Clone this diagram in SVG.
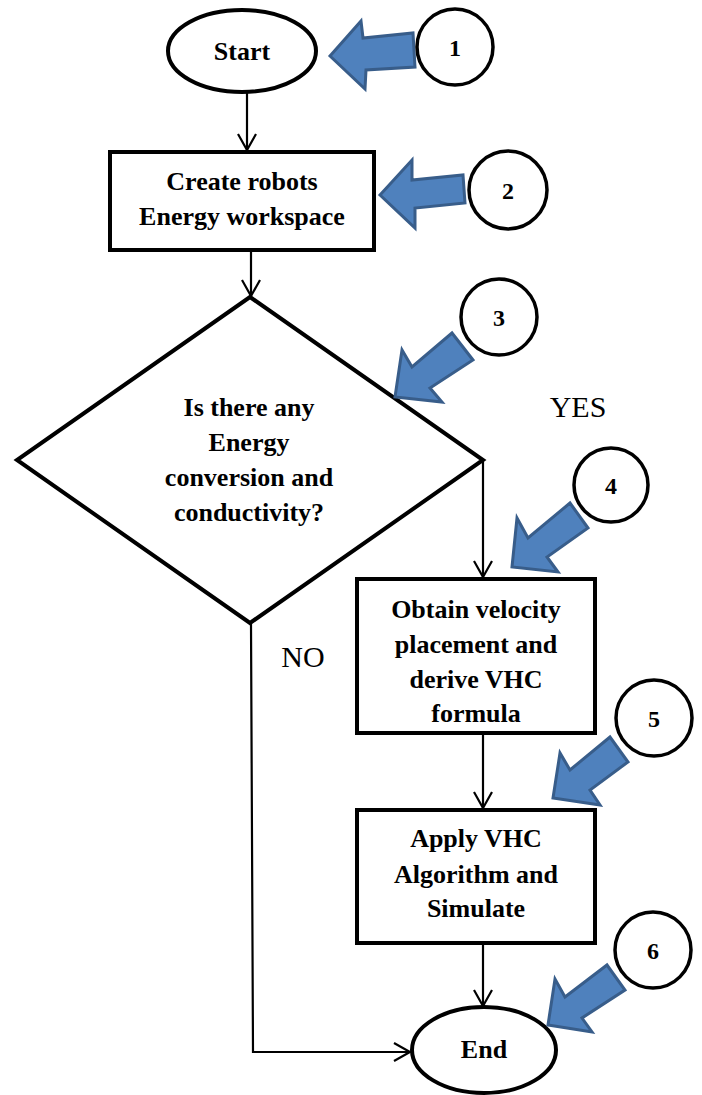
<svg xmlns="http://www.w3.org/2000/svg" width="702" height="1095" viewBox="0 0 702 1095">
<defs>
<style>
.shape{fill:#fff;stroke:#000;stroke-width:4}
.circ{fill:#fff;stroke:#000;stroke-width:3.5}
.blk{fill:#4f81bd;stroke:#385d8a;stroke-width:3;stroke-linejoin:miter}
.conn{fill:none;stroke:#000;stroke-width:2.2}
.t{font-family:"Liberation Serif",serif;font-weight:600;font-size:26px;text-anchor:middle;fill:#000}
.n{font-family:"Liberation Serif",serif;font-weight:600;font-size:24px;text-anchor:middle;fill:#000}
.lbl{font-family:"Liberation Serif",serif;font-size:30px;text-anchor:middle;fill:#000}
</style>
<marker id="arr" markerUnits="userSpaceOnUse" markerWidth="20" markerHeight="22" refX="17" refY="10" orient="auto">
<path d="M1,1 L17,10 L1,19" fill="none" stroke="#000" stroke-width="2.2"/>
</marker>
</defs>
<rect width="702" height="1095" fill="#fff"/>
<g id="connectors">
<line class="conn" x1="247" y1="93" x2="247" y2="150" marker-end="url(#arr)"/>
<line class="conn" x1="251" y1="251" x2="251" y2="296" marker-end="url(#arr)"/>
<polyline class="conn" points="483,460 483,577" marker-end="url(#arr)"/>
<line class="conn" x1="483" y1="734" x2="483" y2="808" marker-end="url(#arr)"/>
<line class="conn" x1="483" y1="944" x2="483" y2="1006" marker-end="url(#arr)"/>
<polyline class="conn" points="251,624 253,1052 410,1052" marker-end="url(#arr)"/>
<text class="lbl" x="578" y="417">YES</text>
<text class="lbl" x="303" y="667">NO</text>
</g>
<g id="start">
<ellipse class="shape" cx="242" cy="51" rx="74" ry="41"/>
<text class="t" x="242" y="60">Start</text>
</g>
<g id="create">
<rect class="shape" x="110" y="152" width="264" height="98"/>
<text class="t" x="242" y="190">Create robots</text>
<text class="t" x="242" y="225">Energy workspace</text>
</g>
<g id="decision">
<polygon class="shape" points="250,297 483,460 250,623 17,460"/>
<text class="t" x="249" y="416">Is there any</text>
<text class="t" x="249" y="451">Energy</text>
<text class="t" x="249" y="486">conversion and</text>
<text class="t" x="249" y="521">conductivity?</text>
</g>
<g id="obtain">
<rect class="shape" x="357" y="579" width="238" height="154"/>
<text class="t" x="476" y="618">Obtain velocity</text>
<text class="t" x="476" y="653">placement and</text>
<text class="t" x="476" y="688">derive VHC</text>
<text class="t" x="476" y="722">formula</text>
</g>
<g id="apply">
<rect class="shape" x="357" y="810" width="238" height="133"/>
<text class="t" x="476" y="847">Apply VHC</text>
<text class="t" x="476" y="883">Algorithm and</text>
<text class="t" x="476" y="917">Simulate</text>
</g>
<g id="end">
<ellipse class="shape" cx="484" cy="1050" rx="72" ry="43"/>
<text class="t" x="484" y="1058">End</text>
</g>
<g id="callout1">
<polygon class="blk" points="330,56 361,21 363,38 413,33 415,67 366,70 365,89"/>
<circle class="circ" cx="455" cy="47" r="38"/>
<text class="n" x="455" y="56">1</text>
</g>
<g id="callout2">
<polygon class="blk" points="380,195 412,160 412,180 463,175 465,203 415,208 415,228"/>
<circle class="circ" cx="508" cy="190" r="39"/>
<text class="n" x="508" y="199">2</text>
</g>
<g id="callout3">
<polygon class="blk" points="395,397 402,350 412,367 452,333 473,360 430,388 442,402"/>
<circle class="circ" cx="499" cy="317" r="38"/>
<text class="n" x="499" y="326">3</text>
</g>
<g id="callout4">
<polygon class="blk" points="512,567 517,518 528,538 570,503 588,528 547,557 558,572"/>
<circle class="circ" cx="611" cy="485" r="37"/>
<text class="n" x="611" y="494">4</text>
</g>
<g id="callout5">
<polygon class="blk" points="553,798 560,753 570,770 610,737 628,762 590,790 600,805"/>
<circle class="circ" cx="654" cy="718" r="38"/>
<text class="n" x="654" y="727">5</text>
</g>
<g id="callout6">
<polygon class="blk" points="548,1025 555,979 565,997 607,965 625,990 582,1018 592,1032"/>
<circle class="circ" cx="653" cy="950" r="38"/>
<text class="n" x="653" y="959">6</text>
</g>
</svg>
